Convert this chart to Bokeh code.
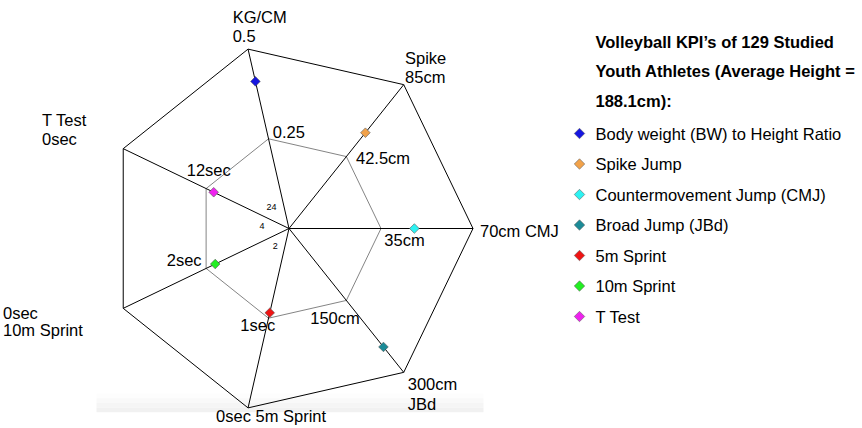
import numpy as np
from bokeh.plotting import figure
from bokeh.models import Range1d, Label, ColumnDataSource, BoxAnnotation
from bokeh.core.properties import value
from bokeh.embed import file_html
from bokeh.resources import INLINE

# ---------------- data ----------------
axis_names = ["CMJ", "Spike", "KG/CM", "T Test", "10m Sprint", "5m Sprint", "JBd"]
axis_center_values = [0, 0, 0, 24, 4, 2, 0]
axis_outer_values = [70, 85, 0.5, 0, 0, 0, 300]

series_names = ["Body weight (BW) to Height Ratio", "Spike Jump", "Countermovement Jump (CMJ)",
                "Broad Jump (JBd)", "5m Sprint", "10m Sprint", "T Test"]
series_axis = [2, 1, 0, 6, 5, 4, 3]
series_values = [0.41, 56.6, 47.7, 247, 1.06, 2.22, 13.1]
series_colors = ["#1616e0", "#f2a24a", "#2cf2f2", "#1b8b97", "#ee1414", "#22ee22", "#ee22ee"]

outer_label_text = ["KG/CM", "0.5", "Spike", "85cm", "70cm CMJ", "300cm", "JBd",
                    "0sec 5m Sprint", "0sec", "10m Sprint", "T Test", "0sec"]
outer_label_axis = [2, 2, 1, 1, 0, 6, 6, 5, 4, 4, 3, 3]
inner_label_text = ["35cm", "42.5cm", "0.25", "12sec", "2sec", "1sec", "150cm"]
center_label_text = ["24", "4", "2"]
center_label_axis = [3, 4, 5]

title_lines = ["Volleyball KPI\u2019s of 129 Studied", "Youth Athletes (Average Height =", "188.1cm):"]

# ---------------- layout / style ----------------
outer_dx = [-15.4, -15.4, 1.3, 1.3, 7, 4, 4, -32, -120.2, -120.2, -81.2, -81.2]
outer_dy = [-32.6, -13.6, -26.6, -8.1, 2, 12.1, 32.1, 8.1, 4.5, 22, -28.2, -9.2]
inner_dx = [3.3, 9.6, 4.2, -19.4, -39.4, -28.2, -36.1]
inner_dy = [11, 1.9, -6.8, -18.6, -8.9, 7.3, 17.1]
center_dx = [-22.5, -29.5, -16.2]
center_dy = [-22, -2.7, 17.7]

FONT = "Liberation Sans"
FS = "16.5px"
PX = 184.0            # pixels per unit radius
CX, CY = 288.5, 228.0 # centre of the radar in page pixels
W, H = 862, 428

LEG_MARK_X, LEG_TEXT_X, LEG_Y0, LEG_STEP = 579, 595, 133, 30.5
TITLE_Y = [41, 70.5, 100.8]

n = len(axis_names)
ang = np.arange(n) * 2 * np.pi / n
ux, uy = np.cos(ang), np.sin(ang)

def dx_(px):
    return (px - CX) / PX

def dy_(py):
    return (CY - py) / PX

p = figure(width=W, height=H, output_backend="svg", toolbar_location=None,
           x_range=Range1d(dx_(0), dx_(W)), y_range=Range1d(dy_(H), dy_(0)),
           x_axis_location=None, y_axis_location=None, min_border=0)
p.grid.visible = False
p.outline_line_color = None
p.background_fill_color = "white"

# faint gray band at the bottom of the chart area
band_cols = ["#fdfdfd", "#f9f9f9", "#f5f5f5", "#f1f1f1"]
band_top = 393.0
for k, c in enumerate(band_cols):
    t = band_top + k * 4.7
    p.add_layout(BoxAnnotation(left=dx_(96), right=dx_(483), top=dy_(t), bottom=dy_(t + 4.7),
                               fill_color=c, fill_alpha=1, line_alpha=0, level="underlay"))

# grid
p.line(np.append(0.5 * ux, 0.5 * ux[0]), np.append(0.5 * uy, 0.5 * uy[0]),
       line_color="#767676", line_width=0.9)
p.segment(x0=np.zeros(n), y0=np.zeros(n), x1=ux, y1=uy, line_color="black", line_width=1)
p.line(np.append(ux, ux[0]), np.append(uy, uy[0]), line_color="black", line_width=1)

# points
fr = [(v - axis_center_values[a]) / (axis_outer_values[a] - axis_center_values[a])
      for v, a in zip(series_values, series_axis)]
sx = [f * ux[a] for f, a in zip(fr, series_axis)]
sy = [f * uy[a] for f, a in zip(fr, series_axis)]
src = ColumnDataSource(dict(x=sx, y=sy, color=series_colors))
p.scatter("x", "y", source=src, marker="square", size=6.8, angle=np.pi / 4,
          fill_color="color", line_color="#555555", line_width=0.6)

# labels
def add_labels(texts, axes, r, dx, dy, size):
    s = ColumnDataSource(dict(x=[r * ux[a] for a in axes], y=[r * uy[a] for a in axes],
                              t=texts, dx=dx, dy=dy))
    p.text("x", "y", text="t", x_offset="dx", y_offset="dy", source=s,
           text_font=value(FONT), text_font_size=size, text_color="black",
           text_align="left", text_baseline="middle")

add_labels(outer_label_text, outer_label_axis, 1.0, outer_dx, outer_dy, FS)
add_labels(inner_label_text, list(range(n)), 0.5, inner_dx, inner_dy, FS)
add_labels(center_label_text, center_label_axis, 0.0, center_dx, center_dy, "9px")

# legend (markers + labels)
leg_y = [dy_(LEG_Y0 + i * LEG_STEP) for i in range(n)]
leg_src = ColumnDataSource(dict(x=[dx_(LEG_MARK_X)] * n, tx=[dx_(LEG_TEXT_X)] * n, y=leg_y,
                                color=series_colors, name=series_names))
p.scatter("x", "y", source=leg_src, marker="square", size=7.4, angle=np.pi / 4,
          fill_color="color", line_color="#666666", line_width=0.6)
p.text("tx", "y", text="name", source=leg_src, text_font=value(FONT), text_font_size=FS,
       text_color="black", text_align="left", text_baseline="middle")

for line, ty in zip(title_lines, TITLE_Y):
    p.add_layout(Label(x=dx_(595), y=dy_(ty), text=line, text_color="black",
                       text_font=FONT, text_font_size=FS, text_font_style="bold",
                       text_baseline="middle", text_align="left"))

open("out.html", "w").write(file_html(p, INLINE))
